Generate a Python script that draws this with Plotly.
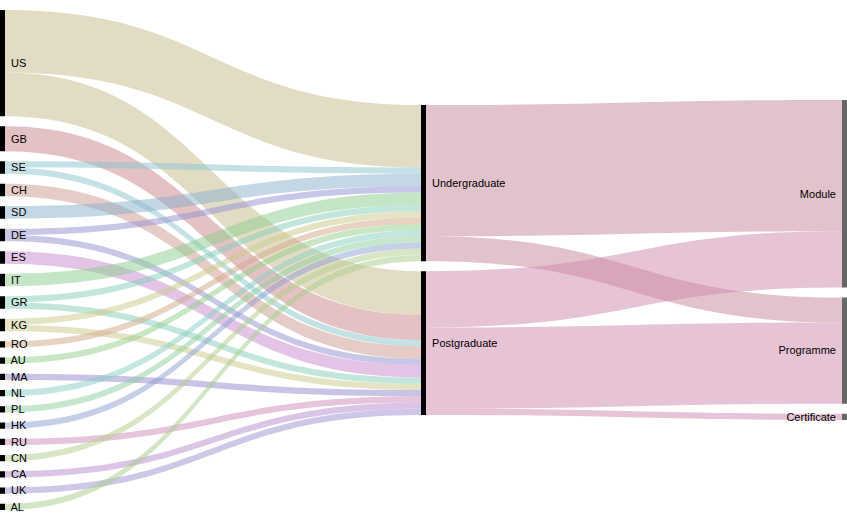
import plotly.graph_objects as go

# ---------------- data ----------------
countries = ["US", "GB", "SE", "CH", "SD", "DE", "ES", "IT", "GR", "KG", "RO",
             "AU", "MA", "NL", "PL", "HK", "RU", "CN", "CA", "UK", "AL"]
levels = ["Undergraduate", "Postgraduate"]
modes = ["Module", "Programme", "Certificate"]

# country -> level flows
cl_source = ["US", "US", "GB", "SE", "SE", "CH", "SD", "DE", "DE", "ES", "IT",
             "GR", "GR", "KG", "KG", "RO", "AU", "MA", "NL", "PL", "HK", "RU",
             "CN", "CA", "UK", "AL"]
cl_target = ["Undergraduate", "Postgraduate", "Postgraduate", "Undergraduate", "Postgraduate",
             "Postgraduate", "Undergraduate", "Undergraduate", "Postgraduate", "Postgraduate",
             "Undergraduate", "Undergraduate", "Postgraduate", "Undergraduate", "Postgraduate",
             "Undergraduate", "Undergraduate", "Postgraduate", "Undergraduate", "Undergraduate",
             "Undergraduate", "Postgraduate", "Undergraduate", "Postgraduate", "Postgraduate",
             "Undergraduate"]
cl_value = [10, 7, 4, 1, 1, 2, 2, 1, 1, 2, 2, 1, 1, 1, 1, 1, 1, 1, 1, 1, 1, 1, 1, 1, 1, 1]

# level -> mode flows
lm_source = ["Undergraduate", "Undergraduate", "Postgraduate", "Postgraduate", "Postgraduate"]
lm_target = ["Module", "Programme", "Module", "Programme", "Certificate"]
lm_value = [21, 4, 9, 13, 1]

# ---------------- style ----------------
country_colors = {
    "US": (227, 220, 196), "GB": (228, 193, 195), "SE": (196, 226, 230),
    "CH": (230, 204, 198), "SD": (195, 215, 229), "DE": (201, 199, 232),
    "ES": (227, 196, 230), "IT": (197, 230, 198), "GR": (194, 230, 220),
    "KG": (228, 228, 196), "RO": (232, 211, 195), "AU": (201, 230, 197),
    "MA": (201, 195, 230), "NL": (196, 230, 224), "PL": (198, 230, 206),
    "HK": (197, 207, 231), "RU": (230, 197, 220), "CN": (216, 230, 197),
    "CA": (218, 197, 231), "UK": (206, 199, 231), "AL": (210, 230, 197),
}
level_colors = {"Undergraduate": (227, 195, 203), "Postgraduate": (230, 195, 213)}
ALPHA = 0.5


def rgba(disp):
    base = [max(0, min(255, round(255 - (255 - c) / ALPHA))) for c in disp]
    return f"rgba({base[0]},{base[1]},{base[2]},{ALPHA})"


W, H = 847, 520
MT, MB = 10, 10
PH = H - MT - MB
PAD = 10
THICK = 5

labels = countries + levels + modes
idx = {n: i for i, n in enumerate(labels)}
src = [idx[s] for s in cl_source + lm_source]
tgt = [idx[t] for t in cl_target + lm_target]
val = cl_value + lm_value
link_colors = [rgba(country_colors[s]) for s in cl_source] + \
              [rgba(level_colors[s]) for s in lm_source]

# node values = max(in, out)
nin = [0] * len(labels)
nout = [0] * len(labels)
for s, t, v in zip(src, tgt, val):
    nout[s] += v
    nin[t] += v
nval = [max(a, b) for a, b in zip(nin, nout)]

columns = [countries, levels, modes]
ky = min((PH - (len(col) - 1) * PAD) / sum(nval[idx[n]] for n in col) for col in columns)
node_x = [0.0] * len(labels)
node_y = [0.0] * len(labels)
for ci, col in enumerate(columns):
    total = sum(nval[idx[n]] for n in col) * ky + (len(col) - 1) * PAD
    y = (PH - total) / 2
    xc = THICK / 2 + ci * (W - THICK) / 2
    for n in col:
        h = nval[idx[n]] * ky
        node_x[idx[n]] = xc / W
        node_y[idx[n]] = (y + h / 2) / PH
        y += h + PAD

node_colors = ["black"] * (len(countries) + len(levels)) + ["#666666"] * len(modes)
# small spacing between node bar and its label
display_labels = [" " + n for n in countries + levels] + [n + " " for n in modes]

fig = go.Figure(go.Sankey(
    arrangement="fixed",
    node=dict(
        label=display_labels,
        x=node_x,
        y=node_y,
        pad=PAD,
        thickness=THICK,
        color=node_colors,
        line=dict(width=0),
    ),
    link=dict(source=src, target=tgt, value=val, color=link_colors,
              line=dict(width=0)),
    textfont=dict(family="Liberation Sans, Arial, sans-serif", size=11, color="black",
                  shadow="none"),
))
fig.update_layout(
    width=W, height=H,
    margin=dict(l=0, r=0, t=MT, b=MB),
    paper_bgcolor="white",
    plot_bgcolor="white",
)
fig.write_html("out.html",
               config={"displayModeBar": False},
               post_script="document.body.style.margin='0px';document.body.style.overflow='hidden';")
